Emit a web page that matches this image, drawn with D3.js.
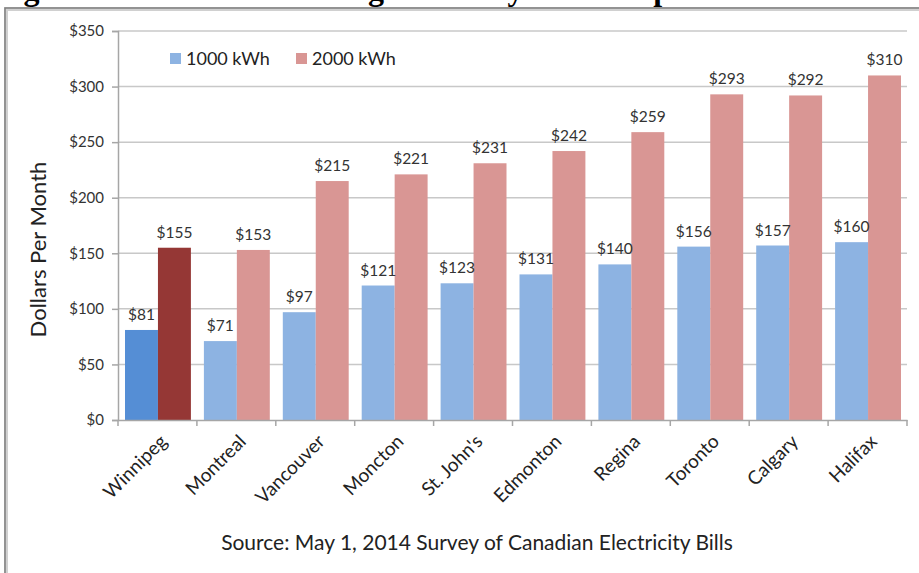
<!DOCTYPE html>
<html>
<head>
<meta charset="utf-8">
<script src="https://cdn.jsdelivr.net/npm/d3@7"></script>
<style>
  body { margin: 0; background: #fff; }
  svg { display: block; }
</style>
</head>
<body>
<div id="chart"></div>
<script>
const cities = ["Winnipeg", "Montreal", "Vancouver", "Moncton", "St. John's",
  "Edmonton", "Regina", "Toronto", "Calgary", "Halifax"];
const kwh1000 = [81, 71, 97, 121, 123, 131, 140, 156, 157, 160];
const kwh2000 = [155, 153, 215, 221, 231, 242, 259, 293, 292, 310];
const seriesNames = ["1000 kWh", "2000 kWh"];
const yTicks = [0, 50, 100, 150, 200, 250, 300, 350];

const W = 919, H = 573;
const margin = { top: 31, right: 12, bottom: 153, left: 118 };
const width = W - margin.left - margin.right;
const height = H - margin.top - margin.bottom;

const colors = ["#8db3e2", "#d99694"];
const highlight = ["#558ed5", "#953735"];
const font = "Lato, 'Open Sans', sans-serif";

const svg = d3.select("#chart").append("svg")
  .attr("width", W)
  .attr("height", H);

// figure title, cut by the top edge as in the source image
svg.append("text")
  .attr("x", -5)
  .attr("y", 0)
  .style("font-family", "'Liberation Serif', 'Times New Roman', serif")
  .style("font-weight", "bold")
  .style("font-size", "32px")
  .text("Figure 1: Residential Average Monthly Bill Comparison");

// frame
svg.append("path")
  .attr("d", `M6,${H + 2}V9H${W + 2}`)
  .attr("fill", "none")
  .attr("stroke", "#d0d0d0")
  .attr("stroke-width", 4);
svg.append("path")
  .attr("d", `M5,${H + 2}V8H${W + 2}`)
  .attr("fill", "none")
  .attr("stroke", "#7f7f7f")
  .attr("stroke-width", 1.5);

const g = svg.append("g")
  .attr("transform", `translate(${margin.left},${margin.top})`);

const x = d3.scaleBand().domain(cities).range([0, width]);
const xInner = d3.scaleBand().domain([0, 1]).range([7, x.bandwidth() - 6]);
const y = d3.scaleLinear().domain([0, 350]).range([height, 0]);

// gridlines
g.selectAll(".grid")
  .data(yTicks.filter(d => d > 0))
  .enter().append("line")
  .attr("x1", 0).attr("x2", width)
  .attr("y1", d => y(d)).attr("y2", d => y(d))
  .attr("stroke", "#c8c8c8")
  .attr("stroke-width", 1.5);

// y axis
const yAxis = g.append("g")
  .call(d3.axisLeft(y).tickValues(yTicks).tickSize(6).tickPadding(8).tickFormat(d => "$" + d));
yAxis.select(".domain").attr("stroke", "#a6a6a6").attr("stroke-width", 1.5);
yAxis.selectAll(".tick line").attr("stroke", "#a6a6a6").attr("stroke-width", 1.5);
yAxis.selectAll("text")
  .style("font-family", font)
  .style("font-size", "15px")
  .attr("fill", "#333");

// bars
const rows = cities.map((c, i) => ({ city: c, i, vals: [kwh1000[i], kwh2000[i]] }));
const groups = g.selectAll(".city")
  .data(rows)
  .enter().append("g")
  .attr("transform", d => `translate(${x(d.city)},0)`);

groups.selectAll("rect")
  .data(d => d.vals.map((v, k) => ({ v, k, i: d.i })))
  .enter().append("rect")
  .attr("x", d => xInner(d.k))
  .attr("width", xInner.bandwidth())
  .attr("y", d => y(d.v))
  .attr("height", d => height - y(d.v))
  .attr("fill", d => d.i === 0 ? highlight[d.k] : colors[d.k]);

groups.selectAll(".val")
  .data(d => d.vals.map((v, k) => ({ v, k })))
  .enter().append("text")
  .attr("x", d => xInner(d.k) + xInner.bandwidth() / 2)
  .attr("y", d => y(d.v) - 10)
  .attr("text-anchor", "middle")
  .style("font-family", font)
  .style("font-size", "15.5px")
  .attr("fill", "#333")
  .text(d => "$" + d.v);

// x axis
const xAxis = g.append("g")
  .attr("transform", `translate(0,${height})`)
  .call(d3.axisBottom(x).tickSize(0).tickFormat(d => d));
xAxis.select(".domain").attr("stroke", "#a6a6a6").attr("stroke-width", 1.5);
xAxis.selectAll("text")
  .attr("transform", "translate(6,18) rotate(-45)")
  .attr("text-anchor", "end")
  .attr("dy", "0.35em")
  .attr("y", 0)
  .style("font-family", font)
  .style("font-size", "19px")
  .attr("fill", "#222");
g.append("g")
  .selectAll("line")
  .data(d3.range(cities.length + 1))
  .enter().append("line")
  .attr("x1", d => d * x.step()).attr("x2", d => d * x.step())
  .attr("y1", height).attr("y2", height + 6)
  .attr("stroke", "#a6a6a6")
  .attr("stroke-width", 1.5);

// y title
g.append("text")
  .attr("transform", `translate(-72,${height / 2 + 24}) rotate(-90)`)
  .attr("text-anchor", "middle")
  .style("font-family", font)
  .style("font-size", "22px")
  .attr("fill", "#222")
  .text("Dollars Per Month");

// legend
const legend = g.selectAll(".legend")
  .data(seriesNames)
  .enter().append("g")
  .attr("transform", (d, i) => `translate(${52 + i * 126},22)`);
legend.append("rect")
  .attr("width", 11).attr("height", 11)
  .attr("y", 0)
  .attr("fill", (d, i) => colors[i]);
legend.append("text")
  .attr("x", 16).attr("y", 6)
  .attr("dy", "0.35em")
  .style("font-family", font)
  .style("font-size", "18px")
  .attr("fill", "#222")
  .text(d => d);

// source note
svg.append("text")
  .attr("x", 477)
  .attr("y", 550)
  .attr("text-anchor", "middle")
  .style("font-family", font)
  .style("font-size", "21px")
  .attr("fill", "#222")
  .text("Source:  May 1, 2014 Survey of Canadian Electricity Bills");
</script>
</body>
</html>
